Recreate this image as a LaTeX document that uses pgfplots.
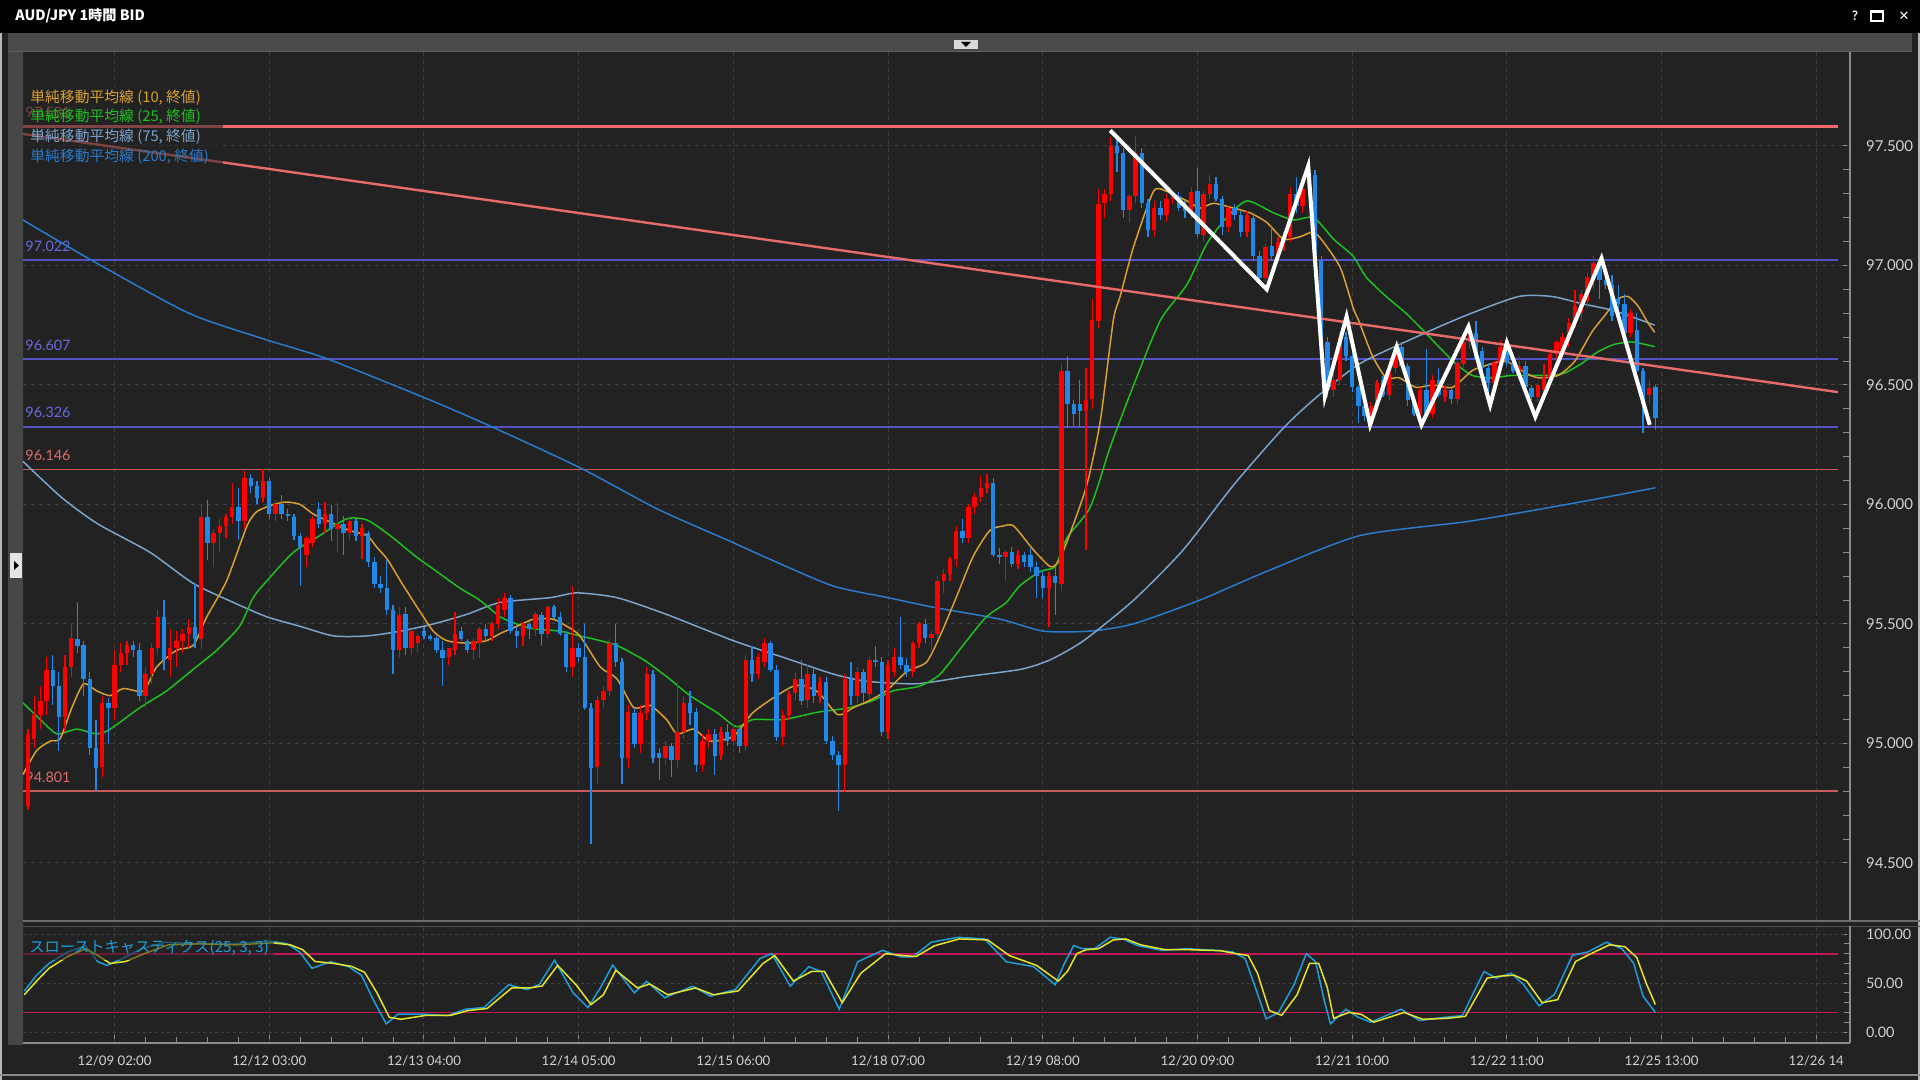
\documentclass[border=0pt]{standalone}
\usepackage{fontspec}
\setmainfont{Lato}
\newfontfamily\cjk{Noto Sans CJK JP}
\newfontfamily\dejavu{DejaVu Sans}
\usepackage{pgfplots}
\usepackage{pgfplotstable}
\pgfplotsset{compat=1.18}
\definecolor{bgc}{HTML}{222222}
\definecolor{barc}{HTML}{4A4A4A}
\definecolor{stripc}{HTML}{464646}
\definecolor{labc}{HTML}{D2D2D2}
\definecolor{tickc}{HTML}{8C8C8C}
\definecolor{gridc}{HTML}{404040}
\definecolor{candred}{HTML}{FF0000}
\definecolor{candblue}{HTML}{2288E8}
\definecolor{maten}{HTML}{D9A030}
\definecolor{matwf}{HTML}{1FC01F}
\definecolor{masvf}{HTML}{7BA4CC}
\definecolor{matwo}{HTML}{2A7BCB}
\definecolor{toplev}{HTML}{F46A6A}
\definecolor{trendc}{HTML}{E86A6A}
\definecolor{purplev}{HTML}{5252C4}
\definecolor{purplab}{HTML}{6A6AE0}
\definecolor{redthin}{HTML}{C85A5A}
\definecolor{redlab}{HTML}{E06A6A}
\definecolor{stK}{HTML}{1E9ED8}
\definecolor{stD}{HTML}{E4E42A}
\definecolor{stband}{HTML}{C2185B}
\definecolor{cA}{HTML}{606060}
\definecolor{cB}{HTML}{D8D8D8}
\definecolor{cC}{HTML}{E4E4E4}
\definecolor{cD}{HTML}{B8B8B8}
\definecolor{cE}{HTML}{8A8A8A}
\definecolor{cF}{HTML}{6E6E6E}
\definecolor{cG}{HTML}{505050}

\pgfplotstableread{
i o h l c
-14 94.74 95.06 94.72 95.04
-13 95.02 95.20 94.98 95.12
-12 95.12 95.24 95.06 95.18
-11 95.18 95.36 95.12 95.31
-10 95.31 95.37 95.16 95.24
-9 95.24 95.30 94.97 95.11
-8 95.11 95.37 95.05 95.32
-7 95.32 95.50 95.28 95.44
-6 95.44 95.59 95.38 95.41
-5 95.41 95.43 95.20 95.27
-4 95.27 95.30 94.95 94.98
-3 94.98 95.10 94.80 94.90
-2 94.90 95.20 94.86 95.17
-1 95.17 95.19 95.00 95.15
0 95.15 95.39 95.10 95.33
1 95.33 95.42 95.30 95.38
2 95.38 95.43 95.33 95.41
3 95.41 95.43 95.36 95.39
4 95.39 95.42 95.18 95.20
5 95.20 95.32 95.15 95.29
6 95.29 95.42 95.25 95.40
7 95.40 95.56 95.37 95.53
8 95.53 95.60 95.31 95.35
9 95.35 95.48 95.28 95.40
10 95.40 95.47 95.32 95.43
11 95.43 95.48 95.38 95.46
12 95.46 95.52 95.40 95.49
13 95.49 95.67 95.40 95.44
14 95.44 96.00 95.39 95.95
15 95.95 96.02 95.77 95.84
16 95.84 95.90 95.74 95.88
17 95.88 95.94 95.80 95.91
18 95.91 95.96 95.86 95.95
19 95.95 96.09 95.92 95.99
20 95.99 96.07 95.85 95.93
21 95.93 96.14 95.90 96.11
22 96.11 96.13 96.05 96.08
23 96.08 96.10 96.00 96.03
24 96.03 96.15 96.01 96.10
25 96.10 96.11 95.94 95.96
26 95.96 96.02 95.93 96.00
27 96.00 96.04 95.94 95.96
28 95.96 95.98 95.93 95.95
29 95.95 95.96 95.85 95.87
30 95.87 95.88 95.66 95.82
31 95.79 95.87 95.74 95.86
32 95.84 95.95 95.82 95.94
33 95.98 96.01 95.90 95.92
34 95.92 96.01 95.88 95.96
35 95.96 96.00 95.85 95.90
36 95.90 96.01 95.80 95.92
37 95.92 95.95 95.79 95.88
38 95.88 95.95 95.85 95.93
39 95.93 95.94 95.85 95.87
40 95.87 95.92 95.77 95.90
41 95.88 95.89 95.74 95.76
42 95.76 95.78 95.65 95.67
43 95.67 95.70 95.63 95.65
44 95.65 95.77 95.54 95.56
45 95.56 95.58 95.29 95.39
46 95.39 95.57 95.36 95.54
47 95.54 95.57 95.37 95.40
48 95.40 95.48 95.37 95.47
49 95.42 95.46 95.38 95.45
50 95.47 95.49 95.44 95.45
51 95.45 95.46 95.43 95.44
52 95.44 95.45 95.38 95.39
53 95.39 95.43 95.24 95.36
54 95.36 95.40 95.33 95.40
55 95.39 95.55 95.37 95.46
56 95.47 95.49 95.43 95.44
57 95.43 95.44 95.38 95.39
58 95.39 95.44 95.35 95.43
59 95.42 95.49 95.36 95.48
60 95.48 95.50 95.43 95.45
61 95.45 95.51 95.43 95.50
62 95.50 95.61 95.48 95.58
63 95.56 95.63 95.53 95.61
64 95.61 95.62 95.46 95.47
65 95.47 95.49 95.40 95.45
66 95.45 95.51 95.41 95.50
67 95.50 95.52 95.44 95.48
68 95.48 95.55 95.45 95.54
69 95.54 95.55 95.41 95.46
70 95.46 95.58 95.44 95.57
71 95.57 95.58 95.52 95.53
72 95.53 95.55 95.45 95.46
73 95.46 95.47 95.30 95.32
74 95.32 95.66 95.28 95.40
75 95.40 95.42 95.34 95.36
76 95.36 95.50 95.14 95.15
77 95.15 95.17 94.58 94.90
78 94.90 95.20 94.83 95.18
79 95.18 95.24 95.15 95.22
80 95.22 95.44 95.20 95.42
81 95.42 95.50 95.32 95.34
82 95.34 95.36 94.83 94.94
83 94.94 95.16 94.90 95.13
84 95.13 95.15 94.98 95.00
85 95.00 95.16 94.96 95.13
86 95.13 95.32 95.10 95.29
87 95.29 95.31 94.92 94.94
88 94.96 94.98 94.85 94.94
89 94.94 95.01 94.91 94.99
90 94.99 95.00 94.86 94.93
91 94.93 95.26 94.90 95.05
92 95.05 95.20 95.02 95.17
93 95.17 95.22 95.08 95.13
94 95.13 95.15 94.88 94.91
95 94.91 95.04 94.88 95.01
96 95.01 95.06 94.98 95.04
97 95.04 95.06 94.87 94.95
98 94.95 95.07 94.93 95.05
99 95.05 95.08 94.99 95.01
100 95.01 95.08 94.99 95.06
101 95.06 95.07 94.96 94.99
102 94.99 95.37 94.97 95.35
103 95.35 95.41 95.26 95.29
104 95.29 95.38 95.27 95.36
105 95.34 95.44 95.32 95.42
106 95.42 95.43 95.30 95.31
107 95.31 95.33 95.01 95.03
108 95.03 95.14 94.99 95.12
109 95.12 95.22 95.10 95.21
110 95.21 95.30 95.18 95.27
111 95.27 95.35 95.16 95.18
112 95.18 95.33 95.15 95.29
113 95.29 95.31 95.17 95.20
114 95.20 95.28 95.17 95.26
115 95.26 95.28 95.00 95.01
116 95.01 95.03 94.93 94.95
117 94.95 94.97 94.72 94.91
118 94.91 95.29 94.80 95.27
119 95.27 95.34 95.16 95.20
120 95.20 95.32 95.17 95.30
121 95.30 95.31 95.17 95.21
122 95.21 95.36 95.18 95.35
123 95.35 95.41 95.32 95.34
124 95.34 95.36 95.03 95.05
125 95.05 95.35 95.02 95.33
126 95.30 95.40 95.28 95.36
127 95.36 95.53 95.31 95.33
128 95.33 95.36 95.28 95.30
129 95.30 95.43 95.28 95.42
130 95.42 95.51 95.40 95.50
131 95.50 95.52 95.42 95.44
132 95.44 95.47 95.39 95.46
133 95.46 95.70 95.44 95.68
134 95.68 95.73 95.63 95.71
135 95.71 95.78 95.68 95.77
136 95.77 95.91 95.74 95.89
137 95.89 95.94 95.84 95.86
138 95.86 96.00 95.84 95.99
139 95.99 96.05 95.96 96.03
140 96.03 96.12 96.01 96.07
141 96.07 96.13 96.05 96.09
142 96.09 96.11 95.78 95.79
143 95.79 95.82 95.75 95.78
144 95.78 95.81 95.68 95.80
145 95.80 95.82 95.74 95.75
146 95.75 95.81 95.73 95.79
147 95.79 95.80 95.74 95.76
148 95.79 95.82 95.72 95.74
149 95.74 95.76 95.61 95.70
150 95.70 95.72 95.61 95.65
151 95.65 95.72 95.49 95.70
152 95.70 95.74 95.54 95.67
153 95.67 96.59 95.64 96.56
154 96.56 96.62 96.32 96.42
155 96.42 96.44 96.33 96.38
156 96.42 96.52 96.32 96.39
157 96.39 96.57 95.81 96.44
158 96.44 96.86 96.40 96.77
159 96.77 97.32 96.74 97.26
160 97.26 97.32 97.20 97.30
161 97.30 97.54 97.27 97.50
162 97.50 97.53 97.39 97.47
163 97.47 97.49 97.20 97.23
164 97.23 97.30 97.18 97.29
165 97.29 97.54 97.26 97.47
166 97.47 97.49 97.24 97.26
167 97.26 97.28 97.12 97.15
168 97.15 97.27 97.12 97.24
169 97.24 97.27 97.19 97.21
170 97.21 97.30 97.18 97.28
171 97.28 97.31 97.26 97.29
172 97.29 97.31 97.23 97.24
173 97.24 97.27 97.20 97.23
174 97.22 97.33 97.20 97.31
175 97.31 97.41 97.12 97.13
176 97.13 97.31 97.10 97.30
177 97.30 97.38 97.28 97.34
178 97.34 97.37 97.27 97.28
179 97.28 97.29 97.13 97.16
180 97.16 97.25 97.14 97.24
181 97.24 97.26 97.19 97.21
182 97.21 97.23 97.12 97.14
183 97.14 97.23 97.12 97.21
184 97.20 97.22 97.02 97.04
185 97.04 97.06 96.93 96.95
186 96.95 97.09 96.93 97.08
187 97.08 97.16 97.02 97.04
188 97.04 97.12 97.02 97.10
189 97.10 97.14 97.06 97.12
190 97.12 97.33 97.10 97.30
191 97.30 97.37 97.22 97.25
192 97.25 97.34 97.22 97.32
193 97.32 97.42 97.30 97.38
194 97.38 97.40 97.00 97.02
195 97.02 97.04 96.66 96.68
196 96.68 96.70 96.45 96.48
197 96.48 96.55 96.45 96.52
198 96.52 96.72 96.50 96.70
199 96.70 96.72 96.60 96.62
200 96.62 96.64 96.47 96.49
201 96.49 96.50 96.34 96.41
202 96.41 96.44 96.35 96.37
203 96.37 96.43 96.34 96.41
204 96.41 96.52 96.39 96.51
205 96.52 96.54 96.45 96.46
206 96.46 96.58 96.44 96.57
207 96.57 96.66 96.55 96.65
208 96.66 96.68 96.57 96.58
209 96.58 96.59 96.41 96.44
210 96.44 96.45 96.37 96.38
211 96.38 96.49 96.33 96.48
212 96.48 96.65 96.36 96.38
213 96.38 96.54 96.36 96.52
214 96.52 96.57 96.45 96.46
215 96.45 96.50 96.43 96.48
216 96.48 96.49 96.42 96.44
217 96.44 96.60 96.42 96.59
218 96.59 96.69 96.57 96.68
219 96.68 96.73 96.65 96.72
220 96.72 96.77 96.61 96.61
221 96.64 96.66 96.56 96.57
222 96.57 96.59 96.45 96.51
223 96.51 96.60 96.49 96.59
224 96.59 96.69 96.57 96.66
225 96.66 96.68 96.58 96.59
226 96.59 96.61 96.55 96.56
227 96.56 96.62 96.52 96.58
228 96.58 96.60 96.47 96.49
229 96.49 96.50 96.44 96.45
230 96.45 96.51 96.43 96.50
231 96.48 96.59 96.46 96.53
232 96.53 96.64 96.51 96.63
233 96.63 96.69 96.61 96.68
234 96.64 96.72 96.62 96.70
235 96.70 96.78 96.66 96.76
236 96.76 96.90 96.74 96.83
237 96.80 96.90 96.77 96.88
238 96.85 96.97 96.82 96.95
239 96.95 97.04 96.90 97.01
240 97.01 97.03 96.86 96.94
241 96.94 96.97 96.90 96.92
242 96.92 96.96 96.77 96.79
243 96.86 96.92 96.80 96.84
244 96.84 96.88 96.70 96.72
245 96.72 96.82 96.70 96.80
246 96.73 96.80 96.55 96.56
247 96.56 96.57 96.30 96.42
248 96.46 96.52 96.42 96.49
249 96.49 96.50 96.31 96.36
}\candles

\begin{document}
\begin{tikzpicture}
\useasboundingbox (0,0) rectangle (960pt,540pt);
\fill[bgc] (0,0) rectangle (960pt,540pt);
% title bar
\fill[black] (0,523.5pt) rectangle (960pt,540pt);
\node[anchor=west, text=white, font=\cjk\bfseries\fontsize{7.1}{9}\selectfont, inner sep=0pt] at (7.5pt,532pt) {AUD/JPY 1時間 BID};
\node[text=white, font=\bfseries\fontsize{6.5}{8}\selectfont, inner sep=0pt] at (927.5pt,532pt) {?};
\draw[white, line width=0.6pt] (935.5pt,529.5pt) rectangle (941.5pt,534.5pt);
\draw[white, line width=1.4pt] (935.5pt,534.2pt) -- (941.5pt,534.2pt);
\node[text=white, font=\dejavu\fontsize{6.5}{8}\selectfont, inner sep=0pt] at (952pt,532pt) {✕};
% gray bar
\fill[barc] (4pt,514pt) rectangle (956pt,523.5pt);
\draw[cA, line width=0.5pt] (4pt,514.2pt) -- (956pt,514.2pt);
\fill[cB] (477pt,515.5pt) rectangle (489pt,520pt);
\fill[black] (480.5pt,519pt) -- (485.5pt,519pt) -- (483pt,516.5pt) -- cycle;
% left strip
\fill[stripc] (4pt,17.5pt) rectangle (11.5pt,514pt);
\fill[cC] (5pt,251pt) rectangle (11pt,263.5pt);
\fill[black] (7pt,259.5pt) -- (7pt,255pt) -- (9.5pt,257.25pt) -- cycle;
% window borders
\draw[cD, line width=1pt] (0.6pt,0) -- (0.6pt,523.5pt);
\draw[cD, line width=1pt] (959.4pt,0) -- (959.4pt,523.5pt);
\draw[cE, line width=0.8pt] (0,2.5pt) -- (960pt,2.5pt);
% panel separator
\draw[cF, line width=0.9pt] (11.5pt,79.6pt) -- (960pt,79.6pt);
\draw[cG, line width=0.6pt] (11.5pt,76.6pt) -- (960pt,76.6pt);

\begin{axis}[
  at={(11.5pt,80pt)}, anchor=south west, scale only axis,
  width=913.5pt, height=434pt,
  xmin=-14.8, xmax=280.46, ymin=94.2615, ymax=97.893,
  clip=false,
  axis line style={draw=none},
  xtick=\empty,
  ytick={94.5,95,95.5,96,96.5,97,97.5},
  minor y tick num=4,
  ytick pos=right, yticklabel pos=right,
  tick align=inside,
  major tick length=3.5pt, minor tick length=3.5pt,
  tick style={color=tickc, line width=0.5pt},
  yticklabel style={font=\fontsize{7.5}{9}\selectfont, text=labc, anchor=west, xshift=4.5pt,
    /pgf/number format/fixed, /pgf/number format/fixed zerofill,
    /pgf/number format/precision=3, /pgf/number format/assume math mode=true},
]
% grid
\pgfplotsinvokeforeach{0,25,50,75,100,125,150,175,200,225,250,275}{
  \draw[gridc, line width=0.5pt, dash pattern=on 2pt off 2pt] (axis cs:#1,94.2615) -- (axis cs:#1,97.893);
}
\pgfplotsinvokeforeach{94.5,95,95.5,96,96.5,97,97.5}{
  \draw[gridc, line width=0.5pt, dash pattern=on 2pt off 2pt] (axis cs:-14.8,#1) -- (axis cs:280.46,#1);
}
\draw[tickc, line width=0.6pt] (rel axis cs:1,0) -- (rel axis cs:1,1);
% level lines
\addplot[toplev, line width=1.5pt] coordinates {(-14.8,97.581) (278.5,97.581)};
\addplot[purplev, line width=1pt] coordinates {(-14.8,97.022) (278.5,97.022)};
\addplot[purplev, line width=1pt] coordinates {(-14.8,96.607) (278.5,96.607)};
\addplot[purplev, line width=1pt] coordinates {(-14.8,96.326) (278.5,96.326)};
\addplot[redthin, line width=0.8pt] coordinates {(-14.8,96.146) (278.5,96.146)};
\addplot[redthin, line width=0.8pt] coordinates {(-14.8,94.801) (278.5,94.801)};
\node[anchor=base west, text=toplev, font=\fontsize{7.2}{9}\selectfont, inner sep=0pt, xshift=1pt, yshift=4.4pt] at (axis cs:-14.8,97.581) {97.581};
\node[anchor=base west, text=purplab, font=\fontsize{7.2}{9}\selectfont, inner sep=0pt, xshift=1pt, yshift=4.4pt] at (axis cs:-14.8,97.022) {97.022};
\node[anchor=base west, text=purplab, font=\fontsize{7.2}{9}\selectfont, inner sep=0pt, xshift=1pt, yshift=4.4pt] at (axis cs:-14.8,96.607) {96.607};
\node[anchor=base west, text=purplab, font=\fontsize{7.2}{9}\selectfont, inner sep=0pt, xshift=1pt, yshift=4.4pt] at (axis cs:-14.8,96.326) {96.326};
\node[anchor=base west, text=redlab, font=\fontsize{7.2}{9}\selectfont, inner sep=0pt, xshift=1pt, yshift=4.4pt] at (axis cs:-14.8,96.146) {96.146};
\node[anchor=base west, text=redlab, font=\fontsize{7.2}{9}\selectfont, inner sep=0pt, xshift=1pt, yshift=4.4pt] at (axis cs:-14.8,94.801) {94.801};
% MA200
\addplot[matwo, line width=0.75pt, smooth, tension=0.4] coordinates {
(-14.8,97.19) (-3.6,97.02) (12,96.80) (24.4,96.69) (34.3,96.61) (50.7,96.44) (61.4,96.32) (75.5,96.15) (87.8,95.98) (100,95.84) (105.1,95.78) (116,95.66) (125,95.61) (132.3,95.57) (143.1,95.52) (150.1,95.47) (157.6,95.47) (164.6,95.50) (175.4,95.60) (186.2,95.72) (201.3,95.87) (219,95.93) (236.8,96.01) (249,96.07)};
% MA75
\addplot[masvf, line width=0.75pt, smooth, tension=0.4] coordinates {
(-14.8,96.18) (-8.6,96.03) (-2.8,95.92) (5.7,95.80) (12.7,95.67) (19.2,95.59) (24.6,95.53) (30,95.49) (35.4,95.45) (40.8,95.45) (46.2,95.47) (51.5,95.50) (56.9,95.54) (62.3,95.59) (70.4,95.61) (74.7,95.63) (81.2,95.61) (89.2,95.54) (100,95.43) (108.1,95.36) (116.2,95.29) (121.6,95.26) (129.7,95.25) (137.7,95.28) (146.4,95.31) (151.2,95.35) (156.6,95.43) (164.7,95.60) (172.7,95.81) (180.8,96.08) (188.9,96.32) (194.3,96.45) (201.3,96.59) (210.3,96.70) (218.3,96.79) (226.9,96.87) (232.3,96.87) (237.1,96.84) (242.4,96.81) (248.9,96.75)};
% MA25
\addplot[matwf, line width=0.75pt, smooth, tension=0.4] coordinates {
(-14.8,95.17) (-12,95.10) (-9.3,95.04) (-6.1,95.06) (-2.9,95.04) (-0.7,95.06) (4.1,95.15) (8.4,95.22) (12.7,95.31) (16.5,95.39) (20.2,95.49) (22.4,95.61) (24.6,95.68) (28.9,95.80) (33.2,95.87) (37.5,95.94) (40.8,95.935) (44.5,95.87) (48.8,95.78) (51.5,95.73) (55.8,95.65) (59,95.60) (62.3,95.53) (65,95.50) (67.7,95.48) (72,95.47) (75.2,95.45) (78.5,95.43) (81.2,95.41) (85.5,95.35) (89.2,95.28) (93,95.20) (97.3,95.13) (100.5,95.07) (103.2,95.10) (108.1,95.10) (113.4,95.13) (116.2,95.14) (118.8,95.15) (122.6,95.18) (125.8,95.22) (130.1,95.24) (133.4,95.29) (137.7,95.43) (140.9,95.53) (144.1,95.59) (146.3,95.66) (149.6,95.72) (152,95.74) (153.9,95.86) (157.7,95.99) (160.9,96.24) (164.7,96.50) (169,96.77) (173.3,96.92) (176.5,97.09) (179.7,97.20) (183,97.27) (187.3,97.22) (190.5,97.19) (193.8,97.20) (197,97.11) (200.1,97.04) (202.3,96.95) (205.5,96.87) (208.7,96.80) (211.4,96.73) (214,96.66) (216.7,96.59) (219.4,96.54) (222.6,96.53) (225.8,96.54) (229,96.54) (232.2,96.54) (234.4,96.55) (237.1,96.59) (239.8,96.64) (242.4,96.67) (245.1,96.68) (247.3,96.67) (248.9,96.66)};
% MA10
\addplot[maten, line width=0.75pt, smooth, tension=0.4] coordinates {
(-14.8,94.87) (-12.6,94.97) (-10.4,95.01) (-8.8,95.02) (-6.9,95.15) (-5,95.25) (-2.9,95.22) (-0.7,95.20) (1.4,95.23) (4.7,95.22) (6.8,95.32) (10,95.39) (12.7,95.41) (14.9,95.53) (18.1,95.68) (21.4,95.91) (23,95.97) (25.7,96.00) (27.8,96.01) (30,96.00) (32.1,95.96) (35.4,95.92) (38.1,95.89) (40.8,95.87) (42.4,95.82) (44.1,95.77) (46.2,95.68) (48.9,95.57) (51.5,95.47) (53.7,95.43) (56.9,95.42) (60.1,95.43) (62.3,95.46) (65,95.49) (67.7,95.52) (70.9,95.52) (73.1,95.49) (75.2,95.45) (78.5,95.32) (81.2,95.27) (83.9,95.15) (86.5,95.16) (89.2,95.10) (90.9,95.04) (93.6,95.06) (96.2,95.01) (100,95.03) (103.2,95.13) (107,95.20) (109.7,95.24) (111.7,95.24) (113.9,95.21) (116.9,95.12) (119.4,95.15) (122,95.18) (124.7,95.22) (128,95.30) (131.2,95.34) (133.4,95.45) (136,95.61) (138.7,95.78) (141.4,95.89) (143.6,95.91) (145.3,95.91) (148.5,95.81) (151.2,95.74) (152.5,95.76) (154,95.85) (157.1,96.08) (159.3,96.35) (161.4,96.77) (162.5,96.87) (164.7,97.08) (167.9,97.31) (170,97.31) (173.3,97.27) (175.4,97.24) (177.6,97.26) (180.8,97.24) (183.5,97.22) (186.2,97.18) (188.9,97.11) (191.6,97.12) (193.7,97.14) (195.3,97.10) (198.1,96.99) (200.2,96.82) (201.2,96.76) (203.3,96.62) (205.5,96.53) (207.6,96.53) (210.3,96.49) (213,96.50) (216.2,96.49) (219.4,96.56) (221.5,96.58) (224.8,96.60) (228,96.55) (230.1,96.53) (233.3,96.54) (236,96.60) (238.7,96.72) (240.8,96.79) (243,96.86) (244.6,96.87) (246.2,96.83) (247.8,96.76) (248.9,96.72)};
% candles: wicks
\addplot[draw=none, mark=none, forget plot, restrict y to domain=90:100,
  error bars/.cd, y dir=both, y explicit, error mark=none,
  error bar style={draw=candred, line width=0.6pt}]
  table[x=i, y expr={\thisrow{c}>=\thisrow{o} ? (\thisrow{h}+\thisrow{l})/2 : 1000},
        y error expr={(\thisrow{h}-\thisrow{l})/2}] \candles;
\addplot[draw=none, mark=none, forget plot, restrict y to domain=90:100,
  error bars/.cd, y dir=both, y explicit, error mark=none,
  error bar style={draw=candblue, line width=0.6pt}]
  table[x=i, y expr={\thisrow{c}<\thisrow{o} ? (\thisrow{h}+\thisrow{l})/2 : 1000},
        y error expr={(\thisrow{h}-\thisrow{l})/2}] \candles;
% candles: bodies
\addplot[draw=none, mark=none, forget plot, restrict y to domain=90:100,
  error bars/.cd, y dir=both, y explicit, error mark=none,
  error bar style={draw=candred, line width=2.2pt, line cap=butt}]
  table[x=i, y expr={\thisrow{c}>=\thisrow{o} ? (\thisrow{o}+\thisrow{c})/2 : 1000},
        y error expr={max(abs(\thisrow{c}-\thisrow{o})/2,0.005)}] \candles;
\addplot[draw=none, mark=none, forget plot, restrict y to domain=90:100,
  error bars/.cd, y dir=both, y explicit, error mark=none,
  error bar style={draw=candblue, line width=2.2pt, line cap=butt}]
  table[x=i, y expr={\thisrow{c}<\thisrow{o} ? (\thisrow{o}+\thisrow{c})/2 : 1000},
        y error expr={max(abs(\thisrow{c}-\thisrow{o})/2,0.005)}] \candles;
% trend line
\addplot[trendc, line width=1.2pt] coordinates {(-14.8,97.55) (278.5,96.47)};
% white zigzag
\addplot[white, line width=2pt, line join=miter] coordinates {
(160.9,97.565) (186.2,96.90) (192.9,97.416) (195.6,96.451) (199.1,96.786) (202.9,96.333) (207.2,96.66) (211.2,96.333) (218.8,96.744) (222.3,96.416) (225.0,96.677) (229.6,96.367) (240.3,97.03) (248.1,96.333)};
\end{axis}

\begin{axis}[
  at={(11.5pt,18.5pt)}, anchor=south west, scale only axis,
  width=913.5pt, height=58.5pt,
  xmin=-14.8, xmax=280.46, ymin=-11.2, ymax=108.2,
  clip=false,
  axis line style={draw=none},
  xtick={0,25,...,275},
  xticklabels={12/09 02:00,12/12 03:00,12/13 04:00,12/14 05:00,12/15 06:00,12/18 07:00,12/19 08:00,12/20 09:00,12/21 10:00,12/22 11:00,12/25 13:00,12/26 14},
  minor x tick num=4,
  ytick={0,50,100}, minor y tick num=4,
  xtick pos=bottom, ytick pos=right, yticklabel pos=right,
  tick align=inside,
  major tick length=4.5pt, minor tick length=2.8pt,
  tick style={color=tickc, line width=0.5pt},
  xticklabel style={font=\fontsize{6.6}{8}\selectfont, text=labc, yshift=-3pt},
  yticklabel style={font=\fontsize{7.2}{9}\selectfont, text=labc, anchor=west, xshift=4.5pt,
    /pgf/number format/fixed, /pgf/number format/fixed zerofill,
    /pgf/number format/precision=2, /pgf/number format/assume math mode=true},
]
\pgfplotsinvokeforeach{0,25,50,75,100,125,150,175,200,225,250,275}{
  \draw[gridc, line width=0.5pt, dash pattern=on 2pt off 2pt] (axis cs:#1,-11.2) -- (axis cs:#1,108.2);
}
\pgfplotsinvokeforeach{0,50,100}{
  \draw[gridc, line width=0.5pt, dash pattern=on 1.5pt off 1.5pt] (axis cs:-14.8,#1) -- (axis cs:280.46,#1);
}
\draw[tickc, line width=0.6pt] (rel axis cs:1,0) -- (rel axis cs:1,1);
\draw[tickc, line width=0.6pt] (rel axis cs:0,0) -- (rel axis cs:1,0);
\addplot[stband, line width=0.9pt] coordinates {(-14.8,80) (278.5,80)};
\addplot[stband, line width=0.9pt] coordinates {(-14.8,20) (278.5,20)};
\addplot[stK, line width=0.75pt] coordinates {
(-14.6,41.7) (-12.6,58) (-10.6,70) (-7.6,81.7) (-4.7,88) (-2.7,71.7) (-1.2,68) (1.3,75) (4.3,85) (8.2,91.7) (13.2,90) (19.1,90) (25,93) (27.9,90) (29.9,81.7) (31.9,65) (34.9,71.7) (37.8,66.7) (39.9,58) (41.9,31.7) (43.9,8.3) (45.8,18.3) (49.8,18.3) (53.8,16.7) (56.7,23.3) (59.7,25) (63.7,48.3) (66.6,43.3) (68.6,48.3) (71.1,73.3) (74.1,40) (76.5,25) (78.5,45) (80.5,68.3) (84,40) (86,51.7) (88.9,35) (93.4,46.7) (96.3,36.7) (100.3,43.3) (104.3,75) (106.2,80) (109.2,46.7) (112.2,66.7) (114.2,61.7) (117.1,23.3) (120.1,71.7) (124.1,83.3) (127.1,76.7) (129,76.7) (132,91.7) (136.3,96.7) (140.6,95) (144.1,71.7) (148.5,66.7) (152,48.3) (153.5,70) (155,88.3) (156.4,85) (158.4,85) (160.9,96.7) (162.9,95) (165.3,88.3) (169.3,83.3) (173.3,85) (178.2,83.3) (180.7,81.7) (182.7,75) (184.2,48.3) (186.1,13.3) (188.1,20) (190.6,48.3) (192.6,80) (194.1,71.7) (195.5,31.7) (196.5,8.3) (199,23.3) (201,15) (203,10) (207.9,23.3) (210.9,11.7) (214.9,15) (217.8,16.7) (221.3,61.7) (223.3,55) (225.7,60) (227.7,48.3) (230.2,26.7) (232.7,38.3) (235.6,78.3) (238.1,81.7) (241.1,91.7) (243.6,85) (245.5,70) (247,36.7) (249,20)};
\addplot[stD, line width=0.75pt] coordinates {
(-14.6,38) (-12.6,52) (-10.6,65) (-7.6,77) (-4.7,85) (-2.7,78) (-0.7,70) (1.8,72) (4.8,80) (8.7,89) (13.7,90) (19.6,89) (25.5,91) (28.4,89) (30.4,84) (32.4,72) (35.4,70) (38.3,67) (40.4,61) (42.4,40) (44.4,15) (46.3,13) (50.3,17) (54.3,17) (57.2,22) (60.2,24) (64.2,45) (67.1,45) (69.1,47) (71.6,68) (74.6,48) (77,28) (79,38) (81,63) (84.5,45) (86.5,49) (89.4,38) (93.9,45) (96.8,38) (100.8,42) (104.8,70) (106.7,78) (109.7,52) (112.7,62) (114.7,62) (117.6,30) (120.6,60) (124.6,80) (127.6,78) (129.5,77) (132.5,88) (136.5,95) (141.1,94) (144.6,78) (149,68) (152.5,52) (154,62) (155.5,80) (157,84) (159,85) (161.4,94) (163.4,95) (165.8,89) (169.8,84) (173.8,84) (178.7,83) (181.2,80) (183.2,78) (184.7,60) (186.6,22) (188.6,17) (191.1,38) (193.1,70) (194.6,70) (196,45) (197,14) (199.5,20) (201.5,18) (203.5,10) (208.4,20) (211.4,13) (215.4,14) (218.3,16) (221.8,55) (223.8,57) (226.2,58) (228.2,52) (230.7,30) (233.2,33) (236.1,72) (238.6,80) (241.6,89) (244.1,87) (246,76) (247.5,50) (249,28)};
\end{axis}

% legend overlay (dims lines behind the legend, like the reference)
\fill[bgc, opacity=0.55] (11.6pt,456pt) rectangle (111.5pt,497pt);
\node[anchor=west, text=maten, font=\cjk\fontsize{7.4}{8}\selectfont, inner sep=0pt] at (15pt,490.9pt) {単純移動平均線 (10, 終値)};
\node[anchor=west, text=matwf, font=\cjk\fontsize{7.4}{8}\selectfont, inner sep=0pt] at (15pt,481.4pt) {単純移動平均線 (25, 終値)};
\node[anchor=west, text=masvf, font=\cjk\fontsize{7.4}{8}\selectfont, inner sep=0pt] at (15pt,471.4pt) {単純移動平均線 (75, 終値)};
\node[anchor=west, text=matwo, font=\cjk\fontsize{7.4}{8}\selectfont, inner sep=0pt] at (15pt,461.7pt) {単純移動平均線 (200, 終値)};
% stochastic label
\fill[bgc, opacity=0.55] (11.6pt,60pt) rectangle (137pt,72pt);
\node[anchor=west, text=stK, font=\cjk\fontsize{7.6}{8}\selectfont, inner sep=0pt] at (14.5pt,66pt) {スローストキャスティクス(25, 3, 3)};
\end{tikzpicture}
\end{document}
